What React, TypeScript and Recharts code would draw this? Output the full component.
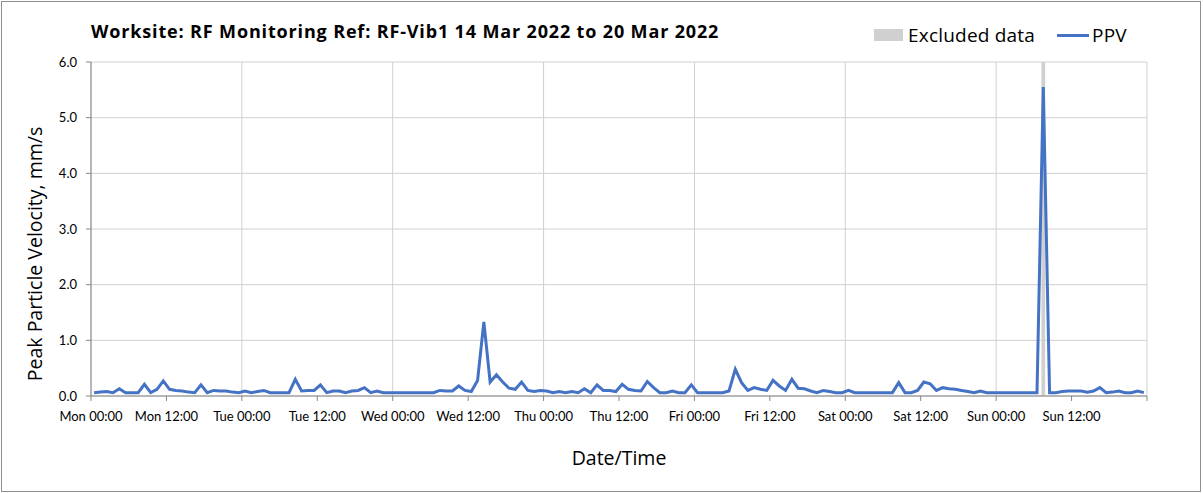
import {
  ComposedChart,
  Line,
  XAxis,
  YAxis,
  CartesianGrid,
  ReferenceArea,
  Legend,
  Label,
} from "recharts";

// hourly peak particle velocity, mm/s (Mon 00:00 .. Sun 23:00, plotted at half past)
const ppvValues = [
  0.06, 0.07, 0.08, 0.06, 0.13, 0.06, 0.06, 0.06, 0.21, 0.06, 0.12, 0.27,
  0.12, 0.1, 0.09, 0.07, 0.06, 0.2, 0.06, 0.1, 0.09, 0.09, 0.07, 0.06,
  0.09, 0.06, 0.08, 0.1, 0.06, 0.06, 0.06, 0.06, 0.3, 0.09, 0.1, 0.1,
  0.2, 0.06, 0.09, 0.09, 0.06, 0.09, 0.1, 0.15, 0.06, 0.09, 0.06, 0.06,
  0.06, 0.06, 0.06, 0.06, 0.06, 0.06, 0.06, 0.1, 0.09, 0.09, 0.18, 0.1,
  0.08, 0.28, 1.33, 0.25, 0.38, 0.25, 0.14, 0.12, 0.25, 0.1, 0.08, 0.1,
  0.09, 0.06, 0.08, 0.06, 0.08, 0.06, 0.13, 0.06, 0.2, 0.1, 0.1, 0.08,
  0.21, 0.12, 0.1, 0.09, 0.26, 0.15, 0.06, 0.06, 0.09, 0.06, 0.06, 0.2,
  0.06, 0.06, 0.06, 0.06, 0.06, 0.09, 0.48, 0.24, 0.1, 0.15, 0.12, 0.1,
  0.28, 0.18, 0.1, 0.3, 0.14, 0.13, 0.09, 0.06, 0.1, 0.08, 0.06, 0.06,
  0.1, 0.06, 0.06, 0.06, 0.06, 0.06, 0.06, 0.06, 0.24, 0.06, 0.06, 0.1,
  0.25, 0.22, 0.1, 0.15, 0.13, 0.12, 0.1, 0.08, 0.06, 0.09, 0.06, 0.06,
  0.06, 0.06, 0.06, 0.06, 0.06, 0.06, 0.06, 5.55, 0.06, 0.06, 0.08, 0.09,
  0.09, 0.09, 0.07, 0.09, 0.15, 0.06, 0.07, 0.09, 0.06, 0.06, 0.09, 0.06,
];

// hours from Mon 00:00
const tickHours = [0, 12, 24, 36, 48, 60, 72, 84, 96, 108, 120, 132, 144, 156, 168];
const tickLabels = [
  "Mon 00:00", "Mon 12:00", "Tue 00:00", "Tue 12:00", "Wed 00:00", "Wed 12:00",
  "Thu 00:00", "Thu 12:00", "Fri 00:00", "Fri 12:00", "Sat 00:00", "Sat 12:00",
  "Sun 00:00", "Sun 12:00", "",
];
const dayGridHours = [0, 24, 48, 72, 96, 120, 144, 168];
const yTicks = [0, 1, 2, 3, 4, 5, 6];

const excludedPeriods = [{ from: 151.2, to: 151.8 }];

const data = ppvValues.map((v, i) => ({ t: i + 0.5, ppv: v }));

const FONT = "Lato, 'Open Sans', sans-serif";
const WIDE = "'Open Sans', sans-serif";
const BLUE = "#4472C4";
const GREY = "#d0d0d0";

function LegendBox() {
  return (
    <div
      style={{
        display: "flex",
        alignItems: "center",
        fontSize: 19,
        letterSpacing: 0.2,
        color: "#000",
        fontFamily: WIDE,
      }}
    >
      <span style={{ width: 29, height: 12, background: GREY, marginRight: 5 }} />
      <span>Excluded data</span>
      <span
        style={{ width: 32, height: 3, background: BLUE, marginLeft: 22, marginRight: 3 }}
      />
      <span>PPV</span>
    </div>
  );
}

export default function App() {
  return (
    <div
      style={{
        position: "absolute",
        left: 0,
        top: 0,
        width: 1203,
        height: 493,
        background: "#fff",
        fontFamily: FONT,
      }}
    >
      <div
        style={{
          position: "absolute",
          left: 1,
          top: 1,
          width: 1198,
          height: 489,
          border: "1px solid #8f8f8f",
        }}
      />
      <div
        style={{
          position: "absolute",
          left: 91,
          top: 19,
          fontSize: 18,
          letterSpacing: 0.85,
          fontWeight: 700,
          color: "#000",
          fontFamily: WIDE,
          whiteSpace: "nowrap",
        }}
      >
        Worksite: RF Monitoring Ref: RF-Vib1 14 Mar 2022 to 20 Mar 2022
      </div>
      <ComposedChart
        width={1203}
        height={493}
        data={data}
        margin={{ top: 62, right: 56, bottom: 0, left: 0 }}
        style={{ position: "absolute", left: 0, top: 0 }}
      >
        <CartesianGrid
          stroke={GREY}
          verticalValues={dayGridHours}
          horizontalValues={yTicks}
        />
        {excludedPeriods.map((p) => (
          <ReferenceArea
            key={p.from}
            x1={p.from}
            x2={p.to}
            y1={0}
            y2={6}
            fill={GREY}
            fillOpacity={1}
            stroke="none"
          />
        ))}
        <XAxis
          dataKey="t"
          type="number"
          domain={[0, 168]}
          ticks={tickHours}
          tickFormatter={(v) => tickLabels[tickHours.indexOf(v)]}
          interval={0}
          height={97}
          stroke="#868686"
          tickSize={5}
          tickMargin={11}
          tick={{ fill: "#000", fontSize: 13 }}
        >
          <Label
            content={() => (
              <text
                x={619}
                y={465}
                textAnchor="middle"
                fontSize={19.5}
                fill="#000"
                fontFamily={WIDE}
              >
                Date/Time
              </text>
            )}
          />
        </XAxis>
        <YAxis
          type="number"
          domain={[0, 6]}
          ticks={yTicks}
          width={91}
          stroke="#868686"
          tickSize={5}
          tickMargin={9}
          tickFormatter={(v) => Number(v).toFixed(1)}
          tick={{ fill: "#000", fontSize: 13 }}
        >
          <Label
            content={() => (
              <text
                x={42}
                y={254}
                transform="rotate(-90 42 254)"
                textAnchor="middle"
                fontSize={19.5}
                fill="#000"
                fontFamily={WIDE}
              >
                Peak Particle Velocity, mm/s
              </text>
            )}
          />
        </YAxis>
        <Legend
          layout="vertical"
          verticalAlign="middle"
          align="center"
          wrapperStyle={{ top: 22, left: 874, width: 300 }}
          content={() => <LegendBox />}
        />
        <Line
          dataKey="ppv"
          name="PPV"
          stroke={BLUE}
          strokeWidth={3}
          dot={false}
          activeDot={false}
          isAnimationActive={false}
        />
      </ComposedChart>
    </div>
  );
}
